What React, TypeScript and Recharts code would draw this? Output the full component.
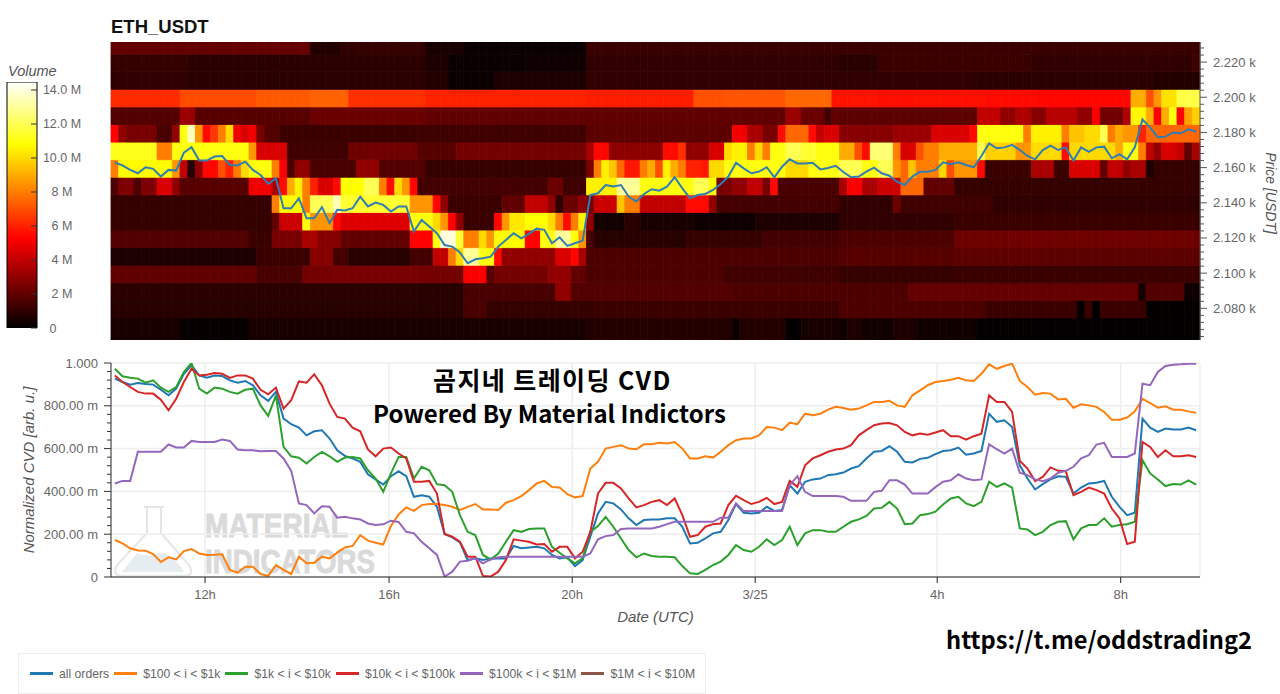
import React from 'react';
import { ComposedChart, Bar, Line, Cell, XAxis, YAxis, CartesianGrid, Legend } from 'recharts';

// ---- price line (USDT) per 10-minute slot
const priceClose = [2162.9,2161.3,2158.7,2156.8,2160.2,2159.3,2154.9,2158.7,2158.3,2168.5,2171.6,2164,2164,2166.3,2166.6,2161.5,2161.2,2163.4,2158.7,2155.8,2150.7,2154,2136.9,2136.9,2142.6,2131.2,2131.2,2137.5,2128.4,2136,2135.6,2136.9,2143.5,2137.9,2140.1,2138.8,2135,2137.9,2137.9,2123.7,2130.2,2126.5,2122.7,2116,2115.1,2111.7,2105.6,2107.9,2108.5,2109.4,2115.1,2118.9,2122.7,2119.8,2122.3,2125.3,2124.6,2117,2120.4,2115.5,2117,2118.5,2144.4,2145.4,2150.1,2149.2,2150.1,2143.5,2140.7,2145,2147.7,2146.9,2149.2,2154.5,2148.2,2142.6,2144.4,2145,2147.3,2150.7,2154.9,2162.8,2159.6,2156.8,2157.7,2160.2,2154.5,2160.5,2164.7,2162.4,2162.4,2162.8,2159,2159.8,2161,2157.5,2154.5,2154.9,2157.7,2160,2156.8,2155.4,2152,2150.1,2154.9,2157.7,2157.7,2158.7,2163,2161.9,2163,2161.5,2160.2,2166.6,2173.8,2171,2171.5,2172.9,2170,2166.6,2164.7,2170,2172.5,2170,2171.5,2164,2171.5,2169,2171.5,2171.9,2165.3,2167.7,2164.7,2171.5,2187.4,2182.7,2177.2,2177.6,2180,2179.5,2181.8,2180.4];

// ---- normalized CVD, thousandths
const cvdAll = [927,911,899,907,902,899,875,849,880,950,989,942,931,941,939,919,908,916,896,849,823,865,740,714,698,662,681,686,647,592,566,554,538,480,456,432,471,494,471,375,382,375,328,201,185,162,79,87,79,87,87,87,145,134,138,141,134,103,87,92,51,79,188,297,351,344,316,274,243,266,269,269,274,274,235,157,160,180,204,211,266,341,300,297,300,328,309,313,429,390,445,456,460,476,480,488,507,518,554,585,589,611,585,538,535,552,557,574,589,592,605,571,577,589,763,725,732,701,522,460,409,434,456,471,468,390,418,437,440,449,375,328,289,300,740,698,678,694,689,689,698,686];
const cvd100 = [173,157,134,124,123,107,70,92,82,121,131,110,103,104,106,33,20,48,48,14,5,56,33,14,95,64,67,95,87,114,138,145,196,170,160,152,238,292,325,309,336,341,341,336,328,313,328,341,316,316,313,347,359,378,406,437,449,421,418,387,372,378,507,538,600,608,616,600,597,620,620,627,624,631,600,554,554,564,558,585,616,639,647,647,662,701,698,686,721,714,763,756,763,782,795,790,782,787,802,818,818,823,802,795,849,872,896,911,916,922,931,919,916,950,994,973,986,997,916,888,852,860,857,830,833,791,807,802,795,771,735,735,745,774,833,813,791,798,782,782,774,767];
const cvd1k = [973,938,931,927,908,919,885,865,888,958,1000,880,857,885,880,865,857,875,880,802,753,849,608,564,557,530,561,585,564,538,558,561,554,499,460,398,484,561,561,460,515,499,434,429,398,289,211,196,103,82,110,165,219,211,224,227,227,141,113,87,64,87,211,238,281,235,180,126,92,110,98,95,95,92,51,17,14,33,56,72,103,149,126,118,141,176,149,173,235,149,204,219,219,211,211,235,258,269,285,320,323,351,320,247,250,289,294,305,339,367,375,344,331,351,445,421,437,418,227,222,196,211,243,258,261,176,227,243,243,274,235,243,247,258,546,484,456,425,434,432,452,432];
const cvd10k = [942,911,888,865,857,857,829,779,833,911,973,942,945,953,950,930,942,942,927,875,854,885,787,826,914,908,947,896,810,748,740,698,681,596,564,600,605,577,554,445,445,449,390,201,188,165,95,95,5,2,25,79,176,170,165,152,154,118,141,141,87,118,211,390,440,440,414,367,325,336,351,359,336,367,289,188,196,235,247,250,336,379,359,341,351,370,341,351,449,421,522,554,569,585,596,600,616,662,686,709,717,720,709,678,662,670,665,675,686,658,658,642,658,670,849,818,818,771,543,507,448,468,512,496,494,382,398,418,406,390,320,274,154,165,631,608,561,592,564,564,569,561];
const cvd100k = [437,449,449,585,585,585,585,619,605,605,636,631,631,631,642,636,596,592,592,588,589,589,554,496,344,336,297,331,328,277,281,274,269,250,243,246,263,257,211,204,165,134,103,2,25,72,76,87,64,82,92,95,95,95,95,95,95,95,95,95,95,95,110,176,191,196,224,227,227,227,227,235,247,258,258,258,258,258,258,277,277,344,308,308,308,308,308,308,429,471,398,378,378,378,378,375,356,356,356,398,403,452,452,432,390,390,390,420,445,452,480,460,452,456,620,597,577,600,487,476,456,448,460,487,496,515,554,569,619,627,561,561,561,577,903,896,958,986,992,994,997,997];

// ---- volume heat map, in millions: [first slot, volume] runs per price bin, top bin first
const bin2230 = [[0,2.1],[26,0.7],[30,1.0],[32,1.1],[41,0.5],[46,0.2],[62,1.2]];
const bin2220 = [[0,1.1],[10,0.9],[41,0.6],[44,0.2],[54,0.3],[62,1.0],[95,0.8],[100,1.2],[120,1.0],[141,1.3]];
const bin2210 = [[0,1.0],[10,0.9],[41,0.7],[44,0.2],[50,0.6],[62,1.0],[113,0.9],[136,0.7]];
const bin2200 = [[0,6.2],[9,6.9],[19,7.2],[26,7.4],[31,6.3],[41,6.0],[62,5.9],[76,7.0],[80,7.1],[88,7.5],[94,5.7],[100,5.6],[114,5.5],[121,5.4],[133,9.0],[135,7.0],[136,8.5],[137,10.2],[139,11.8]];
const bin2190 = [[0,1.7],[9,3.2],[11,1.8],[26,2.2],[41,2.0],[62,2.0],[88,3.2],[90,2.2],[93,1.4],[94,2.0],[95,1.9],[113,4.0],[116,3.0],[118,3.6],[120,2.8],[122,3.8],[126,3.0],[128,5.2],[129,2.3],[132,3.6],[133,10.6],[135,9.0],[136,5.3],[137,9],[138,11],[139,5.4],[140,8.8],[141,9.8]];
const bin2180 = [[0,5.3],[1,3],[2,2.5],[6,1.5],[8,3],[9,11],[10,13.5],[11,8.5],[12,5.5],[13,6.5],[14,8],[15,10],[16,5],[17,4.5],[18,5],[19,2.5],[20,1.7],[22,1.2],[40,1.3],[62,1.9],[81,5],[83,3.5],[85,2.5],[87,5.5],[88,7.5],[91,5.5],[92,4],[93,4.5],[95,2.8],[102,3.2],[107,4.5],[112,5.5],[113,11],[119,8],[120,10.5],[124,8],[125,9.5],[127,10],[129,12],[130,8],[131,9],[132,8.5],[134,6],[135,7.5]];
const bin2170 = [[0,11.2],[6,8],[8,11],[18,8.5],[19,4.5],[23,1.3],[31,2.3],[40,1.8],[45,2.4],[62,3.5],[63,5.4],[65,2.9],[72,5.5],[74,6.3],[75,3],[78,4.5],[80,10],[81,10.5],[83,8],[84,10],[85,8],[86,11],[88,12],[90,11.5],[92,11],[95,9],[97,7],[98,5.5],[99,12.5],[102,8],[103,4.5],[105,7],[106,8],[108,9],[113,12],[114,9.8],[118,8.5],[120,10],[124,5.5],[125,10],[131,9],[132,11],[134,8],[135,4],[136,3],[137,4.5],[139,4],[140,2],[141,3.5]];
const bin2160 = [[0,8],[1,10.7],[8,8.5],[9,4],[10,0.8],[11,3],[12,5.4],[14,7],[15,6],[16,8],[17,10],[18,11],[21,8],[22,5.2],[23,1.6],[24,3],[26,1.5],[32,3],[35,1.7],[41,1.1],[62,2.5],[63,8],[64,10.5],[65,9.5],[66,7.5],[67,5.8],[69,8],[70,9],[71,7],[72,10.5],[73,9],[74,8],[75,6],[77,5.8],[78,10],[80,11],[88,10],[91,11],[95,12],[98,11],[100,12],[102,8.5],[103,7.5],[104,9.5],[105,8],[108,10],[109,7],[110,8.5],[113,5.5],[114,1.2],[120,3.5],[123,1.2],[125,4.5],[129,2],[130,4],[132,3],[133,3.5],[135,0.6],[136,1.1]];
const bin2150 = [[0,1.6],[1,2.6],[3,1.6],[4,2.6],[6,4.5],[8,3],[9,1.8],[18,5],[21,3.5],[22,5.5],[23,9],[24,10.5],[25,8],[26,6],[27,4.5],[29,5.5],[30,10.8],[33,12],[35,8],[36,5.5],[37,10],[38,8.5],[39,5.4],[40,1.4],[57,2.2],[59,1.3],[62,10.5],[66,13],[69,11],[76,12],[78,10.8],[79,2.5],[81,3],[83,4],[85,2.5],[86,5.5],[87,1.5],[95,3.5],[96,5.2],[98,3.5],[100,4.2],[103,7.5],[106,2],[110,1.1]];
const bin2140 = [[0,1.1],[21,8],[22,10.8],[25,8],[26,12],[29,13.5],[30,11.5],[39,8.5],[42,5.4],[43,3],[44,1.2],[51,2],[54,4],[57,3],[58,1],[59,2.2],[61,3],[62,2.5],[63,4.2],[66,9.5],[67,8],[69,4],[75,5.5],[78,3],[79,1.4],[95,1],[102,2.2],[103,1.3],[115,1.0]];
const bin2130 = [[0,1.1],[21,2],[22,4.2],[25,11],[26,8.5],[29,5.5],[30,4.6],[39,11],[42,10],[43,8.5],[44,5.3],[45,3],[46,1.2],[50,5.4],[51,8.5],[52,10.3],[54,10.8],[57,10],[58,8],[59,5.5],[60,8],[61,10.5],[62,3],[63,0.4],[67,0.9],[69,0.5],[76,0.3],[84,0.6],[95,1.0],[110,1.2]];
const bin2120 = [[0,1.7],[18,1.2],[21,2.5],[25,3.5],[27,2.8],[30,2],[39,5.3],[42,11],[43,14],[45,11.5],[46,8],[48,10],[49,8.5],[50,10.7],[54,5.3],[56,11],[58,13],[60,11],[61,8.5],[62,1.5],[63,0.8],[75,1.1],[85,1.4],[95,1.6],[110,2.3]];
const bin2110 = [[0,0.6],[19,1.2],[26,2.8],[29,1.4],[31,0.8],[39,1.4],[42,4],[44,8],[45,10],[46,13],[48,11],[50,5.5],[51,3],[58,4.5],[60,5.4],[61,3.5],[62,1.6],[95,1.8],[110,1.9]];
const bin2100 = [[0,2],[19,1.5],[25,2.4],[29,2.5],[40,2.4],[46,5.2],[49,1.8],[50,2.4],[57,3],[60,2],[62,1.6],[80,1.3],[95,1.1],[110,1.2]];
const bin2090 = [[0,0.9],[40,0.8],[46,1.5],[58,3],[60,1.7],[81,1.6],[95,1.6],[104,2.1],[134,0.5],[135,1.7],[140,0.3]];
const bin2080 = [[0,0.8],[46,1.5],[49,1.1],[63,1.2],[95,1.6],[114,1.2],[126,0.1],[127,1.2],[128,0.1],[129,1.2],[135,0.1]];
const bin2070 = [[0,0.5],[9,0.15],[18,0.5],[62,0.7],[81,0.2],[82,0.7],[88,0.05],[90,0.5],[95,0.3],[96,0.6],[98,0.35],[102,0.6],[105,0.35],[113,0.05]];

// price-bin heights in USDT, bottom bin first (the bottom one holds the whole base of the stack)
const binRuns = [bin2070, bin2080, bin2090, bin2100, bin2110, bin2120, bin2130, bin2140, bin2150, bin2160, bin2170, bin2180, bin2190, bin2200, bin2210, bin2220, bin2230];
const binHeights = [2074.5, 10, 10, 10, 10, 10, 10, 10, 10, 10, 10, 10, 10, 10, 10, 10, 6.9];

// ---- axes
const priceDomain = [2062, 2231.4];
const priceLabels = [2080, 2100, 2120, 2140, 2160, 2180, 2200, 2220];
const priceMinorTicks = [2064,2068,2072,2076,2080,2084,2088,2092,2096,2100,2104,2108,2112,2116,2120,2124,2128,2132,2136,2140,2144,2148,2152,2156,2160,2164,2168,2172,2176,2180,2184,2188,2192,2196,2200,2204,2208,2212,2216,2220,2224,2228];
const cvdMajor = [0, 200, 400, 600, 800, 1000];
const cvdTicks = [0,40,80,120,160,200,240,280,320,360,400,440,480,520,560,600,640,680,720,760,800,840,880,920,960,1000];
const cvdLabels: Record<number, string> = { 0: '0', 200: '200.00 m', 400: '400.00 m', 600: '600.00 m', 800: '800.00 m', 1000: '1.000' };
const timeSlots = [12.26, 36.26, 60.14, 84.0, 107.73, 131.66];
const timeGrid = [12.26, 36.26, 60.14, 84.0, 107.73, 131.66, 142];
const timeLabels = ['12h', '16h', '20h', '3/25', '4h', '8h'];
const volumeTicks = [0, 2, 4, 6, 8, 10, 12, 14];
const volumeLabels = ['0', '2 M', '4 M', '6 M', '8 M', '10.0 M', '12.0 M', '14.0 M'];
const volumeMax = 14.47;

const seriesNames = ['all orders', '$100 < i < $1k', '$1k < i < $10k', '$10k < i < $100k', '$100k < i < $1M', '$1M < i < $10M'];
const seriesColors = ['#1f77b4', '#ff7f0e', '#2ca02c', '#d62728', '#9467bd', '#8c564b'];
const seriesValues = [cvdAll, cvd100, cvd1k, cvd10k, cvd100k, []];

const SANS = '"Liberation Sans", Arial, sans-serif';
const KR = '"Noto Sans CJK KR", "Noto Sans", sans-serif';

function hot(v: number) {
  const t = v / volumeMax;
  const c = (x: number) => Math.round(255 * Math.max(0, Math.min(1, x)));
  return `rgb(${c(t / 0.365)},${c((t - 0.365) / 0.381)},${c((t - 0.746) / 0.254)})`;
}
function volumeAt(runs: number[][], slot: number) {
  let v = runs[0][1];
  for (const r of runs) if (r[0] <= slot) v = r[1];
  return v;
}

const heatTable = priceClose.map((price, slot) => {
  const row: Record<string, number> = { slot, price };
  binHeights.forEach((h, b) => { row['b' + b] = h; });
  return row;
});
const cvdTable = cvdAll.map((_, i) => {
  const row: Record<string, number | null> = { pos: i + 0.5 };
  seriesValues.forEach((vals, s) => { row['s' + s] = s < 5 ? vals[i] : null; });
  return row;
});

function PriceTick({ x, y, payload }: any) {
  const major = priceLabels.includes(payload.value);
  return (
    <g>
      <line x1={x} x2={x + (major ? 7 : 4)} y1={y} y2={y} stroke="#555" />
      {major && <text x={x + 13} y={y + 4.5} fontSize={13} fontFamily={SANS} fill="#666">{(payload.value / 1000).toFixed(3)} k</text>}
    </g>
  );
}
function CvdTick({ x, y, payload }: any) {
  const major = cvdMajor.includes(payload.value);
  return (
    <g>
      <line x1={x} x2={x - (major ? 7 : 4)} y1={y} y2={y} stroke="#333" />
      {major && <text x={x - 13} y={y + 4.5} textAnchor="end" fontSize={13} fontFamily={SANS} fill="#666">{cvdLabels[payload.value]}</text>}
    </g>
  );
}
function VolumeTick({ x, y, payload }: any) {
  const idx = volumeTicks.indexOf(payload.value);
  return (
    <g>
      <line x1={x - 6} x2={x} y1={y} y2={y} stroke="#333" />
      <text x={payload.value === 0 ? 53 : 62} y={y + 4.5} textAnchor="middle" fontSize={12.5} fontFamily={SANS} fill="#666">{volumeLabels[idx]}</text>
    </g>
  );
}
function LegendBox() {
  return (
    <div style={{ position: 'absolute', left: 0, top: 0, width: 688, height: 41, boxSizing: 'border-box', border: '1px solid #eee', display: 'flex', alignItems: 'center', paddingLeft: 11, fontFamily: SANS, fontSize: 12.2, color: '#666', whiteSpace: 'nowrap' }}>
      {seriesNames.map((n, i) => (
        <span key={n} style={{ display: 'flex', alignItems: 'center', marginRight: 5 }}>
          <span style={{ display: 'inline-block', width: 23, height: 2.5, background: seriesColors[i], marginRight: 6 }} />
          {n}
        </span>
      ))}
    </div>
  );
}

const PriceTitle = () => (
  <text transform="rotate(90 1270 193)" x={1270} y={193} textAnchor="middle" dominantBaseline="middle" fontFamily={SANS} fontStyle="italic" fontSize={14} fill="#555">Price [USDT]</text>
);
const CvdTitle = () => (
  <text transform="rotate(-90 30 125)" x={30} y={125} textAnchor="middle" dominantBaseline="middle" fontFamily={SANS} fontStyle="italic" fontSize={15} fill="#555">Normalized CVD [arb. u.]</text>
);

const abs = (left: number, top: number): React.CSSProperties => ({ position: 'absolute', left, top, whiteSpace: 'nowrap' });

export default function App() {
  return (
    <div style={{ position: 'absolute', left: 0, top: 0, width: 1280, height: 694, background: '#fff', overflow: 'hidden' }}>
      <div style={{ ...abs(111, 16), fontFamily: SANS, fontWeight: 700, fontSize: 18.5, color: '#111' }}>ETH_USDT</div>
      <div style={{ ...abs(8, 63), fontFamily: SANS, fontStyle: 'italic', fontSize: 14.5, color: '#555' }}>Volume</div>

      <div style={abs(0, 0)}>
        <ComposedChart width={97} height={340} data={[{ v: volumeMax }]} margin={{ top: 82, bottom: 12, left: 7, right: 0 }} barCategoryGap={0}>
          <defs>
            <linearGradient id="hotScale" x1="0" y1="1" x2="0" y2="0">
              {[0, 0.365, 0.746, 1].map((o, i) => (
                <stop key={o} offset={o} stopColor={['#000000', '#ff0000', '#ffff00', '#ffffff'][i]} />
              ))}
            </linearGradient>
          </defs>
          <XAxis hide dataKey="v" type="category" />
          <YAxis orientation="right" width={60} domain={[0, volumeMax]} ticks={volumeTicks} interval={0} axisLine={false} tickLine={false} tickSize={0} tickMargin={0} tick={VolumeTick} allowDataOverflow />
          <Bar dataKey="v" fill="url(#hotScale)" stroke="#000" strokeWidth={1} isAnimationActive={false} />
        </ComposedChart>
      </div>

      <div style={abs(0, 0)}>
        <ComposedChart width={1280} height={341} data={heatTable} margin={{ top: 42, bottom: 1, left: 111, right: 0 }} barCategoryGap={0} barGap={0}>
          <XAxis hide dataKey="slot" type="category" />
          <YAxis orientation="right" width={80} domain={priceDomain} ticks={priceMinorTicks} interval={0} allowDataOverflow axisLine={{ stroke: '#555' }} tickLine={false} tickSize={0} tickMargin={0} tick={PriceTick}
            label={{ content: PriceTitle }} />
          {binHeights.map((_, b) => (
            <Bar key={b} dataKey={'b' + b} stackId="heat" barSize={7.66} isAnimationActive={false}>
              {heatTable.map((_r, i) => {
                const f = hot(volumeAt(binRuns[b], i));
                return <Cell key={i} fill={f} stroke={f} strokeWidth={0.8} />;
              })}
            </Bar>
          ))}
          <Line dataKey="price" type="linear" stroke="#2f7db4" strokeWidth={2} dot={false} isAnimationActive={false} />
        </ComposedChart>
      </div>

      <svg width={1280} height={694} style={abs(0, 0)}>
        <g fill="none" stroke="#e6e6e6" strokeWidth={2}>
          <path d="M144 507H164M147 507V533L117 565Q111 576 124 576H183Q195 576 189 565L161 533V507" />
        </g>
        <path d="M122 572L137 553Q150 558 158 553Q170 550 184 572Z" fill="#e6edf0" />
        <text x={205} y={537} fontFamily={SANS} fontWeight={700} fontSize={34} fill="#dadada" stroke="#dadada" textLength={143} lengthAdjust="spacingAndGlyphs">MATERIAL</text>
        <text x={205} y={573} fontFamily={SANS} fontWeight={700} fontSize={34} fill="#dadada" stroke="#dadada" textLength={170} lengthAdjust="spacingAndGlyphs">INDICATORS</text>
      </svg>

      <div style={abs(0, 345)}>
        <ComposedChart width={1280} height={349} data={cvdTable} margin={{ top: 18, bottom: 0, left: 0, right: 80 }}>
          <CartesianGrid horizontalValues={cvdMajor} verticalValues={timeGrid} stroke="#eeeeee" strokeWidth={1.5} />
          <XAxis dataKey="pos" type="number" domain={[0, 142]} ticks={timeSlots} interval={0} height={117} tickSize={6} tickMargin={7} axisLine={{ stroke: '#222' }} tickLine={{ stroke: '#222' }}
            tick={{ fontSize: 13, fontFamily: SANS, fill: '#666' }} tickFormatter={(v: number) => timeLabels[timeSlots.indexOf(v)]}
            label={{ value: 'Date (UTC)', position: 'insideTop', offset: 34, fontFamily: SANS, fontStyle: 'italic', fontSize: 15, fill: '#555' }} />
          <YAxis width={111} domain={[0, 1000]} ticks={cvdTicks} interval={0} allowDataOverflow axisLine={{ stroke: '#222' }} tickLine={false} tickSize={0} tickMargin={0} tick={CvdTick}
            label={{ content: CvdTitle }} />
          {seriesNames.map((n, s) => (
            <Line key={n} name={n} dataKey={'s' + s} type="linear" stroke={seriesColors[s]} strokeWidth={2} dot={false} isAnimationActive={false} />
          ))}
          <Legend content={LegendBox} wrapperStyle={{ position: 'absolute', left: 18, top: 308, width: 688, height: 0 }} height={0} />
        </ComposedChart>
      </div>

      <div style={{ ...abs(433, 363), fontFamily: KR, fontWeight: 700, fontSize: 25, letterSpacing: 1.4, color: '#000', lineHeight: '32px' }}>곰지네 트레이딩 CVD</div>
      <div style={{ ...abs(373, 397), fontFamily: KR, fontWeight: 700, fontSize: 24, color: '#000', lineHeight: '32px' }}>Powered By Material Indictors</div>
      <div style={{ ...abs(946, 623), fontFamily: KR, fontWeight: 700, fontSize: 23.7, color: '#000', lineHeight: '32px' }}>https://t.me/oddstrading2</div>
    </div>
  );
}
